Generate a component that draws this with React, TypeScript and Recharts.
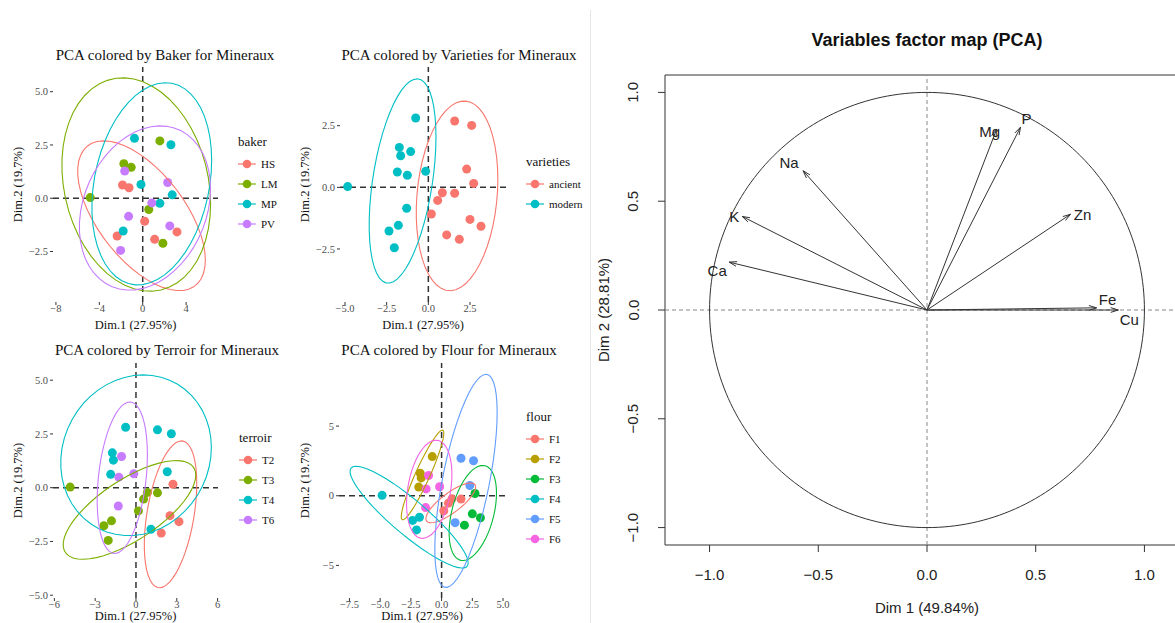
import React from "react";
import { ScatterChart, Scatter, XAxis, YAxis, ReferenceLine, ReferenceArea, Legend } from "recharts";

// individuals on the first two PCA dimensions
const dim1 = [-4.84, -0.76, -1.74, -1.66, -1.06, -1.86, -1.26, -0.16, -1.3, -1.8, -2.36, -2.04, 1.58, 2.6, 2.3, 2.72, 0.84, 1.58, 0.56, 0.18, 2.5, 3.16, 1.1, 1.86];
const dim2 = [0.03, 2.81, 1.62, 1.28, 1.45, 0.62, 0.49, 0.65, -0.85, -1.54, -1.77, -2.45, 2.69, 2.51, 0.74, 0.16, -0.22, -0.24, -0.53, -1.08, -1.3, -1.58, -1.93, -2.11];
const baker = ["LM", "MP", "LM", "PV", "LM", "HS", "HS", "MP", "PV", "MP", "HS", "PV", "LM", "MP", "PV", "MP", "PV", "MP", "LM", "HS", "PV", "HS", "HS", "LM"];
const varieties = ["modern", "modern", "modern", "modern", "modern", "modern", "modern", "modern", "modern", "modern", "modern", "modern", "ancient", "ancient", "ancient", "ancient", "ancient", "ancient", "ancient", "ancient", "ancient", "ancient", "ancient", "ancient"];
const terroir = ["T3", "T4", "T4", "T4", "T6", "T4", "T6", "T6", "T6", "T3", "T3", "T3", "T4", "T4", "T4", "T2", "T3", "T3", "T3", "T3", "T2", "T2", "T4", "T2"];
const flour = ["F4", "F2", "F2", "F2", "F6", "F2", "F6", "F6", "F6", "F4", "F4", "F4", "F5", "F5", "F5", "F3", "F1", "F1", "F1", "F1", "F3", "F3", "F5", "F3"];

const bakerLevels = ["HS", "LM", "MP", "PV"];
const varietyLevels = ["ancient", "modern"];
const terroirLevels = ["T2", "T3", "T4", "T6"];
const flourLevels = ["F1", "F2", "F3", "F4", "F5", "F6"];

// variables factor map (correlations with Dim 1 / Dim 2)
const varNames = ["Ca", "K", "Na", "Mg", "P", "Zn", "Fe", "Cu"];
const varDim1 = [-0.91, -0.85, -0.57, 0.32, 0.43, 0.66, 0.78, 0.88];
const varDim2 = [0.22, 0.43, 0.64, 0.83, 0.84, 0.44, 0.01, 0.0];

// ticks
const bakerXTicks = [-8, -4, 0, 4];
const bakerYTicks = [-2.5, 0, 2.5, 5];
const varietyXTicks = [-5, -2.5, 0, 2.5];
const varietyYTicks = [-2.5, 0, 2.5];
const terroirXTicks = [-6, -3, 0, 3, 6];
const terroirYTicks = [-5, -2.5, 0, 2.5, 5];
const flourXTicks = [-7.5, -5, -2.5, 0, 2.5, 5];
const flourYTicks = [-5, 0, 5];
const corTicks = [-1, -0.5, 0, 0.5, 1];

const hue2 = ["#F8766D", "#00BFC4"];
const hue4 = ["#F8766D", "#7CAE00", "#00BFC4", "#C77CFF"];
const hue6 = ["#F8766D", "#B79F00", "#00BA38", "#00BFC4", "#619CFF", "#F564E3"];

const SERIF = "'Liberation Serif', 'DejaVu Serif', serif";
const SANS = "'Liberation Sans', Arial, sans-serif";

const fmt1 = (v: number) => v.toFixed(1).replace("-", "\u2212");
const fmt0 = (v: number) => String(v).replace("-", "\u2212");

// qf(0.95, 2, d) has a closed form
const qf95 = (d: number) => (d / 2) * (Math.pow(0.05, -2 / d) - 1);

// MASS::cov.trob (nu = 5), as used by stat_ellipse(type = "t")
function covTrob(xs: number[], ys: number[]) {
  const n = xs.length;
  const nu = 5, p = 2;
  let w = xs.map(() => 1);
  let loc = [xs.reduce((a, b) => a + b, 0) / n, ys.reduce((a, b) => a + b, 0) / n];
  let dx: number[] = [];
  let dy: number[] = [];
  for (let iter = 0; iter < 25; iter++) {
    const w0 = w.slice();
    dx = xs.map((v) => v - loc[0]);
    dy = ys.map((v) => v - loc[1]);
    const sw = w0.reduce((a, b) => a + b, 0);
    let sxx = 0, sxy = 0, syy = 0;
    for (let i = 0; i < n; i++) {
      sxx += w0[i] * dx[i] * dx[i];
      sxy += w0[i] * dx[i] * dy[i];
      syy += w0[i] * dy[i] * dy[i];
    }
    sxx /= sw; sxy /= sw; syy /= sw;
    const det = sxx * syy - sxy * sxy;
    const q = dx.map((a, i) => (syy * a * a - 2 * sxy * a * dy[i] + sxx * dy[i] * dy[i]) / det);
    w = q.map((v) => (nu + p) / (nu + v));
    const sw2 = w.reduce((a, b) => a + b, 0);
    loc = [
      xs.reduce((a, v, i) => a + w[i] * v, 0) / sw2,
      ys.reduce((a, v, i) => a + w[i] * v, 0) / sw2,
    ];
    if (w.every((v, i) => Math.abs(v - w0[i]) < 0.01)) break;
  }
  let cxx = 0, cxy = 0, cyy = 0;
  for (let i = 0; i < n; i++) {
    cxx += w[i] * dx[i] * dx[i];
    cxy += w[i] * dx[i] * dy[i];
    cyy += w[i] * dy[i] * dy[i];
  }
  return { center: loc, cov: [cxx / n, cxy / n, cyy / n] };
}

function ellipseOf(xs: number[], ys: number[]) {
  const { center, cov } = covTrob(xs, ys);
  const r = Math.sqrt(2 * qf95(xs.length - 1));
  const a = Math.sqrt(cov[0]);
  const b = cov[1] / a;
  const c = Math.sqrt(Math.max(cov[2] - b * b, 0));
  const out: { x: number; y: number }[] = [];
  for (let i = 0; i <= 51; i++) {
    const t = (i * 2 * Math.PI) / 51;
    const u = Math.cos(t), v = Math.sin(t);
    out.push({ x: center[0] + r * u * a, y: center[1] + r * (u * b + v * c) });
  }
  return out;
}

interface PanelSpec {
  title: string;
  legendTitle: string;
  groupOf: string[];
  levels: string[];
  colors: string[];
  box: [number, number, number, number];
  plot: [number, number, number, number];
  xDomain: [number, number];
  yDomain: [number, number];
  xTicks: number[];
  yTicks: number[];
  xFmt: (v: number) => string;
  yFmt: (v: number) => string;
  titleAt: [number, number];
  legendAt: [number, number];
  xTitleOffset: number;
  yTitleOffset: number;
}

const panels: PanelSpec[] = [
  {
    title: "PCA colored by Baker for Mineraux", legendTitle: "baker", groupOf: baker, levels: bakerLevels, colors: hue4,
    box: [0, 40, 295, 295], plot: [53, 67, 218, 302], xDomain: [-8.27, 6.94], yDomain: [-4.87, 6.16],
    xTicks: bakerXTicks, yTicks: bakerYTicks, xFmt: fmt0, yFmt: fmt1,
    titleAt: [165, 55], legendAt: [238, 134], xTitleOffset: 6, yTitleOffset: 18,
  },
  {
    title: "PCA colored by Varieties for Mineraux", legendTitle: "varieties", groupOf: varieties, levels: varietyLevels, colors: hue2,
    box: [295, 40, 295, 295], plot: [340, 67, 506, 302], xDomain: [-5.3, 4.66], yDomain: [-4.65, 4.88],
    xTicks: varietyXTicks, yTicks: varietyYTicks, xFmt: fmt1, yFmt: fmt1,
    titleAt: [459, 55], legendAt: [526, 154], xTitleOffset: 6, yTitleOffset: 10,
  },
  {
    title: "PCA colored by Terroir for Mineraux", legendTitle: "terroir", groupOf: terroir, levels: terroirLevels, colors: hue4,
    box: [0, 335, 295, 300], plot: [53, 363, 218, 598], xDomain: [-6.1, 6.03], yDomain: [-5.13, 5.8],
    xTicks: terroirXTicks, yTicks: terroirYTicks, xFmt: fmt0, yFmt: fmt1,
    titleAt: [167, 350], legendAt: [239, 430], xTitleOffset: 15, yTitleOffset: 18,
  },
  {
    title: "PCA colored by Flour for Mineraux", legendTitle: "flour", groupOf: flour, levels: flourLevels, colors: hue6,
    box: [295, 335, 295, 300], plot: [339, 363, 505, 598], xDomain: [-8.35, 5.16], yDomain: [-7.34, 9.53],
    xTicks: flourXTicks, yTicks: flourYTicks, xFmt: fmt1, yFmt: fmt0,
    titleAt: [449, 350], legendAt: [526, 409], xTitleOffset: 15, yTitleOffset: 10,
  },
];

const Dot = (props: any) => <circle cx={props.cx} cy={props.cy} r={4.5} fill={props.fill} />;
const NoDot = () => <g />;

function PcaPanel({ spec }: { spec: PanelSpec }) {
  const [bx, by, bw, bh] = spec.box;
  const [pl, pt, pr, pb] = spec.plot;
  const groups = spec.levels.map((lvl, k) => {
    const idx = spec.groupOf.map((g, i) => (g === lvl ? i : -1)).filter((i) => i >= 0);
    const xs = idx.map((i) => dim1[i]);
    const ys = idx.map((i) => dim2[i]);
    return {
      lvl,
      color: spec.colors[k],
      points: idx.map((i) => ({ x: dim1[i], y: dim2[i] })),
      ellipse: ellipseOf(xs, ys),
    };
  });
  const tickStyle = { fontSize: 10.5, fill: "#4d4d4d", fontFamily: SERIF };
  const legendContent = () => (
    <div style={{ fontFamily: SERIF, color: "#111" }}>
      <div style={{ fontSize: 13, lineHeight: "16px", marginBottom: 4 }}>{spec.legendTitle}</div>
      {groups.map((g) => (
        <div key={g.lvl} style={{ display: "flex", alignItems: "center", height: 20 }}>
          <svg width={18} height={12}>
            <line x1={0} y1={6} x2={18} y2={6} stroke={g.color} strokeWidth={1.2} />
            <circle cx={9} cy={6} r={4.3} fill={g.color} />
          </svg>
          <span style={{ marginLeft: 5, fontSize: 11 }}>{g.lvl}</span>
        </div>
      ))}
    </div>
  );
  return (
    <div style={{ position: "absolute", left: bx, top: by, width: bw, height: bh }}>
      <div
        style={{
          position: "absolute", left: spec.titleAt[0] - bx, top: spec.titleAt[1] - by,
          transform: "translate(-50%, -50%)", whiteSpace: "nowrap",
          fontFamily: SERIF, fontSize: 15, color: "#111",
        }}
      >
        {spec.title}
      </div>
      <ScatterChart width={bw} height={bh} margin={{ top: pt - by, right: bx + bw - pr, left: 0, bottom: 0 }}>
        <XAxis
          type="number" dataKey="x" domain={spec.xDomain} ticks={spec.xTicks} allowDataOverflow interval={0}
          height={by + bh - pb} axisLine={false} tickSize={3} tickMargin={0}
          tickLine={{ stroke: "#333" }} tick={tickStyle} tickFormatter={spec.xFmt}
          label={{ value: "Dim.1 (27.95%)", position: "insideBottom", offset: spec.xTitleOffset, style: { fontSize: 12.5, fill: "#111", fontFamily: SERIF } }}
        />
        <YAxis
          type="number" dataKey="y" domain={spec.yDomain} ticks={spec.yTicks} allowDataOverflow interval={0}
          width={pl - bx} axisLine={false} tickSize={3} tickMargin={2}
          tickLine={{ stroke: "#333" }} tick={tickStyle} tickFormatter={spec.yFmt}
          label={{ value: "Dim.2 (19.7%)", angle: -90, position: "insideLeft", offset: spec.yTitleOffset, style: { textAnchor: "middle", fontSize: 12.5, fill: "#111", fontFamily: SERIF } }}
        />
        <ReferenceLine x={0} stroke="#333" strokeWidth={1.5} strokeDasharray="6 4" />
        <ReferenceLine y={0} stroke="#333" strokeWidth={1.5} strokeDasharray="6 4" />
        {groups.map((g) => (
          <Scatter
            key={"pt-" + g.lvl} name={g.lvl} data={g.points} fill={g.color}
            shape={Dot} isAnimationActive={false}
          />
        ))}
        {groups.map((g) => (
          <Scatter
            key={"el-" + g.lvl} data={g.ellipse} fill={g.color} legendType="none"
            line={{ stroke: g.color, strokeWidth: 1.1 }} lineJointType="linear"
            shape={NoDot} isAnimationActive={false}
          />
        ))}
        <Legend
          content={legendContent} layout="vertical" align="center" verticalAlign="middle"
          wrapperStyle={{ left: spec.legendAt[0] - bx, top: spec.legendAt[1] - by, width: "auto" }}
        />
      </ScatterChart>
    </div>
  );
}

// where each variable label sits relative to its arrow tip (px)
const labelShift: Record<string, [number, number]> = {
  Ca: [-12, 8], K: [-8, 0], Na: [-14, -8], Mg: [-7, 2],
  P: [6, -9], Zn: [12, 0], Fe: [11, -8], Cu: [11, 9],
};

function arrowLine(name: string) {
  return (props: any) => {
    const pts = props.points;
    if (!pts || pts.length < 2) return <g />;
    const o = pts[0], t = pts[1];
    const ang = Math.atan2(t.y - o.y, t.x - o.x);
    const L = 8, A = 0.3;
    const h1x = t.x - L * Math.cos(ang - A), h1y = t.y - L * Math.sin(ang - A);
    const h2x = t.x - L * Math.cos(ang + A), h2y = t.y - L * Math.sin(ang + A);
    const s = labelShift[name] || [0, 0];
    return (
      <g>
        <line x1={o.x} y1={o.y} x2={t.x} y2={t.y} stroke="#333" strokeWidth={1} />
        <polyline points={`${h1x},${h1y} ${t.x},${t.y} ${h2x},${h2y}`} fill="none" stroke="#333" strokeWidth={1} />
        <text x={t.x + s[0]} y={t.y + s[1]} textAnchor="middle" dominantBaseline="central" fontSize={15} fontFamily={SANS} fill="#222">
          {name}
        </text>
      </g>
    );
  };
}

const unitCircle = Array.from({ length: 241 }, (_, i) => ({
  x: Math.cos((i * 2 * Math.PI) / 240),
  y: Math.sin((i * 2 * Math.PI) / 240),
}));

function RotTick(props: any) {
  const { x, y, payload } = props;
  return (
    <text x={x} y={y} transform={`rotate(-90, ${x}, ${y})`} textAnchor="middle" dominantBaseline="central" fontSize={15} fontFamily={SANS} fill="#222">
      {fmt1(payload.value)}
    </text>
  );
}

function FactorMap() {
  const bx = 592, bw = 608, bh = 623;
  const arrows = varNames.map((nm, i) => ({ nm, data: [{ x: 0, y: 0 }, { x: varDim1[i], y: varDim2[i] }] }));
  return (
    <div style={{ position: "absolute", left: bx, top: 0, width: bw, height: bh }}>
      <div
        style={{
          position: "absolute", left: 927 - bx, top: 40, transform: "translate(-50%, -50%)",
          whiteSpace: "nowrap", fontFamily: SANS, fontWeight: "bold", fontSize: 18, color: "#111",
        }}
      >
        Variables factor map (PCA)
      </div>
      <ScatterChart width={bw} height={bh} margin={{ top: 75, right: 11, left: 0, bottom: 0 }}>
        <XAxis
          type="number" dataKey="x" domain={[-1.205, 1.205]} ticks={corTicks} allowDataOverflow interval={0}
          height={78} axisLine={false} tickSize={7} tickMargin={17} tickLine={{ stroke: "#333" }}
          tick={{ fontSize: 15, fill: "#222", fontFamily: SANS }} tickFormatter={fmt1}
          label={{ value: "Dim 1 (49.84%)", position: "insideBottom", offset: 10, style: { fontSize: 15, fill: "#222", fontFamily: SANS } }}
        />
        <YAxis
          type="number" dataKey="y" domain={[-1.08, 1.08]} ticks={corTicks} allowDataOverflow interval={0}
          width={73} axisLine={false} tickSize={7} tickMargin={25} tickLine={{ stroke: "#333" }}
          tick={<RotTick />}
          label={{ value: "Dim 2 (28.81%)", angle: -90, position: "insideLeft", offset: 12, style: { textAnchor: "middle", fontSize: 15, fill: "#222", fontFamily: SANS } }}
        />
        <ReferenceArea x1={-1.205} x2={1.205} y1={-1.08} y2={1.08} fill="none" stroke="#333" strokeWidth={1} ifOverflow="visible" />
        <ReferenceLine x={0} stroke="#888" strokeWidth={1} strokeDasharray="4 3" />
        <ReferenceLine y={0} stroke="#888" strokeWidth={1} strokeDasharray="4 3" />
        <Scatter
          data={unitCircle} fill="#333" line={{ stroke: "#333", strokeWidth: 1 }} lineJointType="linear"
          shape={NoDot} isAnimationActive={false}
        />
        {arrows.map((a) => (
          <Scatter
            key={a.nm} data={a.data} fill="#333" line={arrowLine(a.nm)}
            shape={NoDot} isAnimationActive={false}
          />
        ))}
      </ScatterChart>
    </div>
  );
}

export default function App() {
  return (
    <div style={{ position: "absolute", left: 0, top: 0, width: 1175, height: 623, overflow: "hidden", background: "#fff" }}>
      {panels.map((p) => (
        <PcaPanel key={p.legendTitle} spec={p} />
      ))}
      <div style={{ position: "absolute", left: 590, top: 10, width: 1, height: 613, background: "#e6e6e6" }} />
      <FactorMap />
    </div>
  );
}
